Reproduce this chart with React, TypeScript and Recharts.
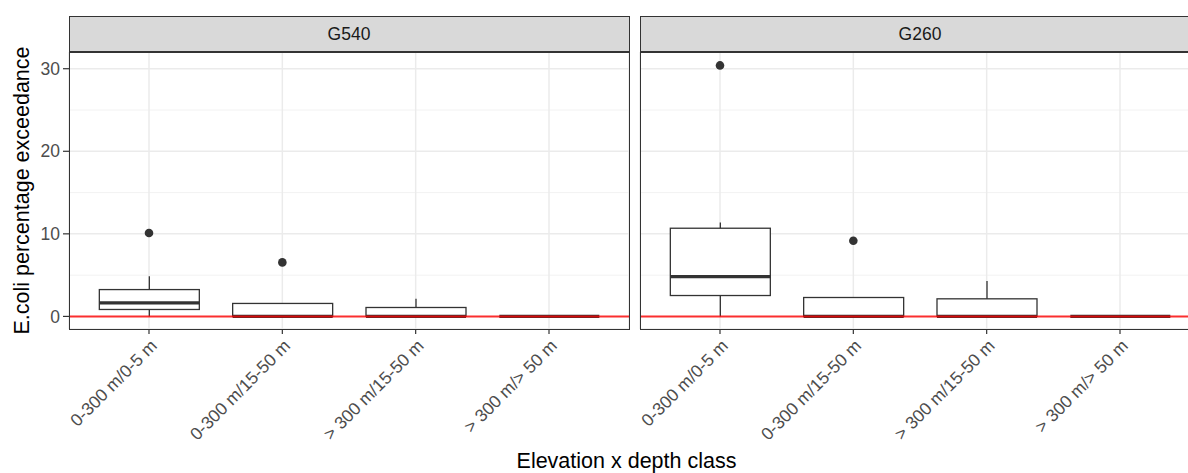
import React from 'react';
import {
  ComposedChart,
  Bar,
  Scatter,
  XAxis,
  YAxis,
  CartesianGrid,
  ReferenceLine,
} from 'recharts';

// categories on the x axis (same for both panels)
const categories = ['0-300 m/0-5 m', '0-300 m/15-50 m', '> 300 m/15-50 m', '> 300 m/> 50 m'];

// box stats per category: [lower whisker, q1, median, q3, upper whisker]
const g540Stats = [
  [0, 0.84, 1.65, 3.25, 4.86],
  [0, 0, 0, 1.57, 1.57],
  [0, 0, 0, 1.08, 2.13],
  [0, 0, 0, 0, 0],
];
const g540Outliers = [10.1, 6.54, null, null];

const g260Stats = [
  [0, 2.53, 4.82, 10.68, 11.36],
  [0, 0, 0, 2.29, 2.29],
  [0, 0, 0, 2.13, 4.3],
  [0, 0, 0, 0, 0],
];
const g260Outliers = [30.4, 9.16, null, null];

const yTicks = [0, 10, 20, 30];
const yMinor = [5, 15, 25];
const yDomain = [-1.525, 32.025];
const threshold = 0;

const FONT = '"Liberation Sans", Arial, sans-serif';
const DARK = '#333333';

const buildRows = (stats: number[][], outliers: (number | null)[]) =>
  categories.map((cat, i) => ({
    cat,
    range: [stats[i][0], stats[i][4]],
    stats: stats[i],
    out: outliers[i],
  }));

// draws whisker, box and median; pixel positions are taken from the
// bar's [min, max] extent, which the y scale already gave us
const BoxShape = (props: any) => {
  const { x, y, width, height, payload } = props;
  const [lo, q1, med, q3, hi] = payload.stats;
  const top = Math.min(y, y + height);
  const h = Math.abs(height);
  const px = (v: number) => (hi === lo ? top : top + ((hi - v) / (hi - lo)) * h);
  const cx = x + width / 2;
  return (
    <g>
      <line x1={cx} x2={cx} y1={px(hi)} y2={px(lo)} stroke={DARK} strokeWidth={1.3} />
      <rect
        x={x}
        y={px(q3)}
        width={width}
        height={Math.max(0, px(q1) - px(q3))}
        fill="#ffffff"
        stroke={DARK}
        strokeWidth={1.3}
      />
      <line x1={x} x2={x + width} y1={px(med)} y2={px(med)} stroke={DARK} strokeWidth={3.2} />
    </g>
  );
};

const OutlierShape = (props: any) => {
  const { cx, cy, payload } = props;
  if (payload.out == null || cy == null || isNaN(cy)) return <g />;
  return <circle cx={cx} cy={cy} r={4.3} fill={DARK} />;
};

const XTick = (props: any) => {
  const { x, y, payload } = props;
  return (
    <text
      x={x}
      y={y}
      textAnchor="end"
      dominantBaseline="hanging"
      transform={`rotate(-45 ${x} ${y})`}
      fill="#4D4D4D"
      fontSize={17.5}
      fontFamily={FONT}
    >
      {payload.value}
    </text>
  );
};

const Panel = ({ rows, showY, left, width, marginLeft }: any) => (
  <div style={{ position: 'absolute', left, top: 0 }}>
    <ComposedChart
      width={width}
      height={473}
      data={rows}
      margin={{ top: 52, right: 1, bottom: 0, left: marginLeft }}
    >
      <CartesianGrid
        horizontalValues={yMinor}
        vertical={false}
        stroke="#F0F0F0"
        strokeWidth={0.9}
      />
      <CartesianGrid stroke="#EBEBEB" strokeWidth={1.5} />
      <XAxis
        dataKey="cat"
        type="category"
        padding={{ left: 13.33, right: 13.33 }}
        height={144}
        axisLine={false}
        tickLine={{ stroke: DARK, strokeWidth: 1.2 }}
        tickSize={5}
        tickMargin={4}
        tick={<XTick />}
        interval={0}
      />
      <YAxis
        type="number"
        domain={yDomain}
        allowDataOverflow
        ticks={yTicks}
        width={69}
        hide={!showY}
        axisLine={false}
        tickLine={{ stroke: DARK, strokeWidth: 1.2 }}
        tickSize={6}
        tickMargin={3}
        tick={{ fill: '#4D4D4D', fontSize: 17.5, fontFamily: FONT }}
      />
      <Bar dataKey="range" barSize={100} shape={<BoxShape />} isAnimationActive={false} />
      <Scatter dataKey="out" shape={<OutlierShape />} isAnimationActive={false} />
      <ReferenceLine y={threshold} stroke="#FF0000" strokeOpacity={0.8} strokeWidth={2} />
    </ComposedChart>
  </div>
);

const Strip = ({ left, label }: any) => (
  <div
    style={{
      position: 'absolute',
      left,
      top: 16,
      width: 561,
      height: 36,
      boxSizing: 'border-box',
      background: '#D9D9D9',
      border: `1px solid ${DARK}`,
      color: '#1A1A1A',
      fontFamily: FONT,
      fontSize: 17.5,
      lineHeight: '34px',
      textAlign: 'center',
    }}
  >
    {label}
  </div>
);

const Frame = ({ left }: any) => (
  <div
    style={{
      position: 'absolute',
      left,
      top: 52,
      width: 561,
      height: 278,
      boxSizing: 'border-box',
      border: `1.3px solid ${DARK}`,
      pointerEvents: 'none',
    }}
  />
);

export default function App() {
  const g540 = buildRows(g540Stats, g540Outliers);
  const g260 = buildRows(g260Stats, g260Outliers);
  return (
    <div
      style={{
        position: 'absolute',
        left: 0,
        top: 0,
        width: 1188,
        height: 473,
        overflow: 'hidden',
        background: '#ffffff',
      }}
    >
      <Panel rows={g540} showY left={0} width={630} marginLeft={0} />
      <Panel rows={g260} showY={false} left={630} width={571} marginLeft={10} />
      <Frame left={68.5} />
      <Frame left={639.5} />
      <Strip left={68.5} label="G540" />
      <Strip left={639.5} label="G260" />
      <div
        style={{
          position: 'absolute',
          left: 0,
          top: 449,
          width: 1253,
          textAlign: 'center',
          fontFamily: FONT,
          fontSize: 21.5,
          color: '#000000',
        }}
      >
        Elevation x depth class
      </div>
      <svg
        width={40}
        height={473}
        style={{ position: 'absolute', left: 0, top: 0 }}
      >
        <text
          x={29}
          y={190.5}
          textAnchor="middle"
          transform="rotate(-90 29 190.5)"
          fontFamily={FONT}
          fontSize={21.5}
          fill="#000000"
        >
          E.coli percentage exceedance
        </text>
      </svg>
    </div>
  );
}
